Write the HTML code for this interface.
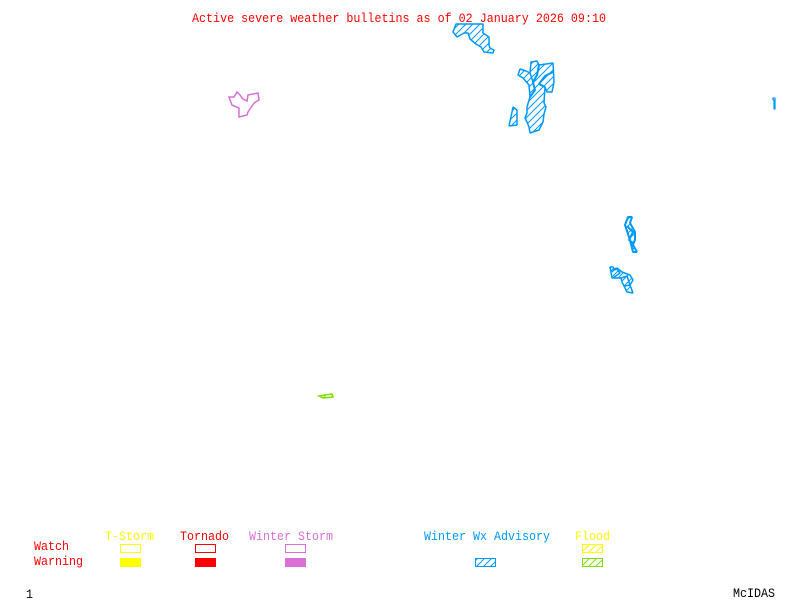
<!DOCTYPE html>
<html>
<head>
<meta charset="utf-8">
<style>
html,body{margin:0;padding:0;background:#fff;width:800px;height:600px;overflow:hidden}
svg{display:block}
text{font-family:"Liberation Mono",monospace;font-size:13px}
.s{shape-rendering:crispEdges}
</style>
</head>
<body>
<svg width="800" height="600" viewBox="0 0 800 600" xmlns="http://www.w3.org/2000/svg">
<defs>
<pattern id="hb" width="7" height="7" patternUnits="userSpaceOnUse">
<path d="M-1 8L8 -1M-1 1L1 -1M6 8L8 6" stroke="#0099ff" stroke-width="1" fill="none"/>
</pattern>
<pattern id="hy" width="7" height="7" patternUnits="userSpaceOnUse">
<path d="M-1 8L8 -1M-1 1L1 -1M6 8L8 6" stroke="#ffff00" stroke-width="1" fill="none"/>
</pattern>
<pattern id="hg" width="7" height="7" patternUnits="userSpaceOnUse">
<path d="M-1 8L8 -1M-1 1L1 -1M6 8L8 6" stroke="#7fdf00" stroke-width="1" fill="none"/>
</pattern>
</defs>

<text x="192" y="22" fill="#ff0000" textLength="414" lengthAdjust="spacingAndGlyphs">Active severe weather bulletins as of 02 January 2026 09:10</text>

<g stroke="#0099ff" stroke-width="1.5" fill="url(#hb)" stroke-linejoin="bevel">
<polygon points="456,24 483,24 483,33 489,37 489,45 490,48 494,50 493,53 484,52 481,47 476,44 470,39 468,33 464,33 457,37 453,32"/>
<polygon points="531,62 537,61 539,65 553,63 554,82 552,92 547,92 545,87 544,103 546,107 544,114 543,122 539,130 530,133 529,127 527,122 525,118 527,113 527,107 530,97 529,85 523,78 518,75 520,69 526,71 530,73"/>
<polyline fill="none" stroke-width="2" points="539,65 537,75 533,82 535,90 530,97"/>
<polyline fill="none" stroke-width="2" points="553,72 545,76 539,84 545,87"/>
<polyline fill="none" points="530,73 533,82"/>
<polygon points="513,107 517,110 517,125 509,126 512,112"/>
<polygon stroke-width="2" points="628,217 632,217 630,223 635,232 635,240 633,245 637,252 633,252 630,240 625,225"/>
<polyline fill="none" stroke-width="2" points="627,226 633,232 629,240 634,244"/>
<polygon points="610,267 612,278 621,278 622,282 627,292 633,293 630,285 633,280 630,275 622,272 617,268 615,270 613,267"/>
<polyline fill="none" points="621,278 627,276 630,285 625,286"/>
<polyline fill="none" points="612,272 616,268 620,273 613,278"/>
<polygon stroke-width="1.2" points="773,98 775,98 775,109 774,109 774,100 773,100"/>
</g>

<polygon points="229,97 234,97 237,92 240,95 243,99 247,101 248,95 258,93 259,100 254,103 248,112 247,115 239,117 239,108 232,105 230,100" fill="none" stroke="#da70d6" stroke-width="1.5"/>

<polygon points="319,396 325,395 332,394 333,397 323,398" fill="url(#hg)" stroke="#7fdf00" stroke-width="1.5"/>

<text x="105" y="540" fill="#ffff00" textLength="49" lengthAdjust="spacingAndGlyphs">T-Storm</text>
<text x="180" y="540" fill="#ff0000" textLength="49" lengthAdjust="spacingAndGlyphs">Tornado</text>
<text x="249" y="540" fill="#da70d6" textLength="84" lengthAdjust="spacingAndGlyphs">Winter Storm</text>
<text x="424" y="540" fill="#0099ff" textLength="126" lengthAdjust="spacingAndGlyphs">Winter Wx Advisory</text>
<text x="575" y="540" fill="#ffff00" textLength="35" lengthAdjust="spacingAndGlyphs">Flood</text>
<text x="34" y="550" fill="#ff0000" textLength="35" lengthAdjust="spacingAndGlyphs">Watch</text>
<text x="34" y="565" fill="#ff0000" textLength="49" lengthAdjust="spacingAndGlyphs">Warning</text>

<g class="s" stroke-width="1">
<rect x="120.5" y="544.5" width="20" height="8" fill="none" stroke="#ffff00"/>
<rect x="195.5" y="544.5" width="20" height="8" fill="none" stroke="#ff0000"/>
<rect x="285.5" y="544.5" width="20" height="8" fill="none" stroke="#da70d6"/>
<rect x="582.5" y="544.5" width="20" height="8" fill="url(#hy)" stroke="#ffff00"/>
<rect x="120" y="558" width="21" height="9" fill="#ffff00" stroke="none"/>
<rect x="195" y="558" width="21" height="9" fill="#ff0000" stroke="none"/>
<rect x="285" y="558" width="21" height="9" fill="#da70d6" stroke="none"/>
<rect x="475.5" y="558.5" width="20" height="8" fill="url(#hb)" stroke="#0099ff"/>
<rect x="582.5" y="558.5" width="20" height="8" fill="url(#hg)" stroke="#7fdf00"/>
</g>

<text x="26" y="598" fill="#000" textLength="7" lengthAdjust="spacingAndGlyphs">1</text>
<text x="733" y="597" fill="#000" textLength="42" lengthAdjust="spacingAndGlyphs">McIDAS</text>
</svg>
</body>
</html>
